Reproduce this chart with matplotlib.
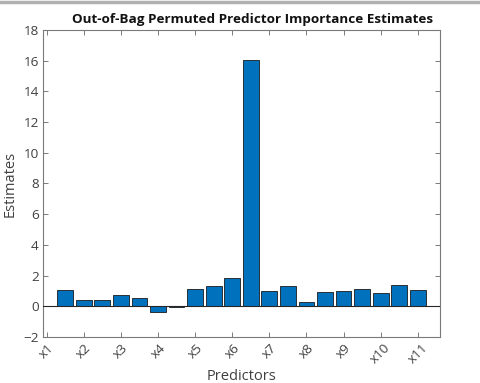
import matplotlib
matplotlib.use("Agg")
import matplotlib.pyplot as plt
from matplotlib.lines import Line2D
import numpy as np

plt.rcParams['font.family'] = ['Open Sans', 'DejaVu Sans']

# Data
importance = [1.04, 0.41, 0.41, 0.72, 0.57, -0.35, -0.06, 1.15, 1.33, 1.87,
              16.05, 1.00, 1.30, 0.28, 0.95, 0.97, 1.13, 0.87, 1.39, 1.04]
tick_positions = [0, 2, 4, 6, 8, 10, 12, 14, 16, 18, 20]
tick_labels = ['x1', 'x2', 'x3', 'x4', 'x5', 'x6', 'x7', 'x8', 'x9', 'x10', 'x11']
y_ticks = [-2, 0, 2, 4, 6, 8, 10, 12, 14, 16, 18]

fig = plt.figure(figsize=(4.81, 3.83), dpi=100)
ax = fig.add_axes([43/481, 1-337/383, (440-43)/481, (337-30)/383])

x = np.arange(1, len(importance) + 1)
ax.bar(x, importance, width=0.85, color='#0072BD', edgecolor='#1a1a1a', linewidth=0.6, zorder=2)
ax.axhline(0, color='#262626', linewidth=0.8, zorder=3)

ax.set_xlim(-0.2, 21.2)
ax.set_ylim(-2, 18)
ax.set_xticks(tick_positions)
ax.set_xticklabels(tick_labels, rotation=45)
ax.set_yticks(y_ticks)

axis_col = '#7a7a7a'
for s in ax.spines.values():
    s.set_color(axis_col)
    s.set_linewidth(0.8)
ax.tick_params(direction='in', length=3.5, width=0.7, color=axis_col,
               top=True, right=True, labelsize=9.7, labelcolor='#404040', pad=3)

ax.set_title('Out-of-Bag Permuted Predictor Importance Estimates',
             fontsize=9.7, fontweight='bold', color='#111111', pad=5, x=0.529)
ax.set_xlabel('Predictors', fontsize=10.5, color='#404040', labelpad=2)
ax.set_ylabel('Estimates', fontsize=10.5, color='#404040', labelpad=4)

# thin grey border at the top of the screenshot
fig.add_artist(Line2D([0, 1], [0.996, 0.996], transform=fig.transFigure,
                      color='#b0b0b0', linewidth=2.5))

fig.savefig('out.png', dpi=100)
